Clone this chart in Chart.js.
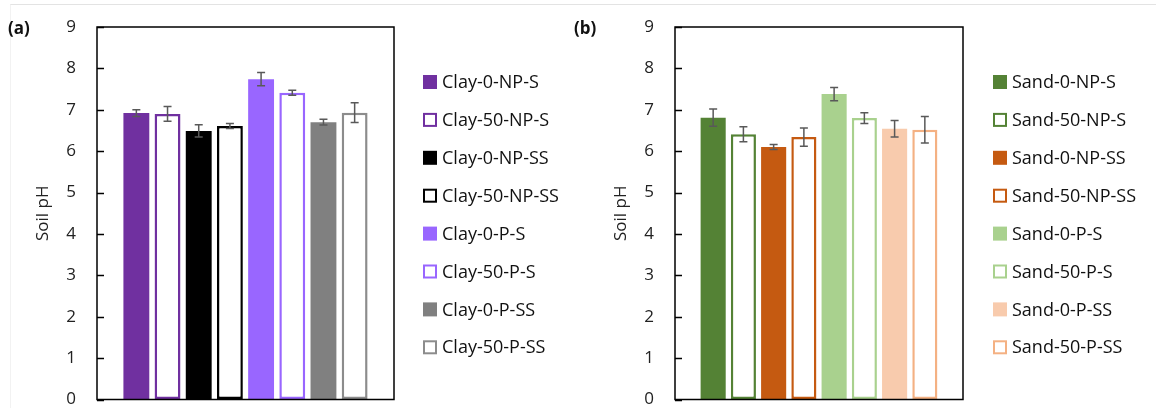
<!DOCTYPE html>
<html>
<head>
<meta charset="utf-8">
<script src="https://cdn.jsdelivr.net/npm/chart.js@4.4.0/dist/chart.umd.min.js"></script>
<style>
  body { margin: 0; background: #fff; width: 1156px; height: 408px; position: relative; overflow: hidden; font-family: "Open Sans", sans-serif; }
  .edge { position: absolute; left: 10px; top: 4px; right: 0; bottom: 0; border-top: 1px solid #e3e3e3; border-left: 1px solid #f2f2f2; }
  .panel { position: absolute; top: 0; width: 578px; height: 408px; }
  .tag { position: absolute; top: 16px; font-weight: bold; font-size: 17px; color: #111; }
</style>
</head>
<body>
<div class="edge"></div>
<div class="panel" style="left:0"><canvas id="clayChart" width="578" height="408"></canvas></div>
<div class="panel" style="left:578px"><canvas id="sandChart" width="578" height="408"></canvas></div>
<div class="tag" style="left:8px">(a)</div>
<div class="tag" style="left:574px">(b)</div>
<script>
// panel (a) - clay
const clayLabels = ["Clay-0-NP-S", "Clay-50-NP-S", "Clay-0-NP-SS", "Clay-50-NP-SS", "Clay-0-P-S", "Clay-50-P-S", "Clay-0-P-SS", "Clay-50-P-SS"];
const clayPH = [6.92, 6.90, 6.49, 6.61, 7.74, 7.41, 6.70, 6.93];
const clayErr = [0.08, 0.18, 0.15, 0.06, 0.16, 0.06, 0.07, 0.24];
const clayColors = ["#7030A0", "#7030A0", "#000000", "#000000", "#9966FF", "#9966FF", "#808080", "#8C8C8C"];

// panel (b) - sand
const sandLabels = ["Sand-0-NP-S", "Sand-50-NP-S", "Sand-0-NP-SS", "Sand-50-NP-SS", "Sand-0-P-S", "Sand-50-P-S", "Sand-0-P-SS", "Sand-50-P-SS"];
const sandPH = [6.81, 6.41, 6.10, 6.34, 7.38, 6.80, 6.54, 6.52];
const sandErr = [0.21, 0.18, 0.06, 0.22, 0.16, 0.13, 0.20, 0.32];
const sandColors = ["#548235", "#548235", "#C55A11", "#C55A11", "#A9D18E", "#A9D18E", "#F8CBAD", "#F4B183"];

const yMin = 0, yMax = 9;

Chart.defaults.font.family = '"Open Sans", sans-serif';
Chart.defaults.color = "#222";

// error bars, drawn from the y scale
const errorBars = {
  id: "errorBars",
  afterDatasetsDraw(chart, args, opts) {
    const { ctx, scales: { y } } = chart;
    ctx.save();
    ctx.strokeStyle = opts.color;
    ctx.lineWidth = opts.width;
    chart.data.datasets.forEach((ds, i) => {
      const bar = chart.getDatasetMeta(i).data[0];
      const hi = y.getPixelForValue(ds.data[0] + ds.err);
      const lo = y.getPixelForValue(ds.data[0] - ds.err);
      ctx.beginPath();
      ctx.moveTo(bar.x, hi); ctx.lineTo(bar.x, lo);
      ctx.moveTo(bar.x - opts.cap, hi); ctx.lineTo(bar.x + opts.cap, hi);
      ctx.moveTo(bar.x - opts.cap, lo); ctx.lineTo(bar.x + opts.cap, lo);
      ctx.stroke();
    });
    ctx.restore();
  }
};

// box round the plot with inward ticks
const plotFrame = {
  id: "plotFrame",
  afterDraw(chart, args, opts) {
    const { ctx, chartArea: a, scales: { y } } = chart;
    ctx.save();
    ctx.strokeStyle = "#000";
    ctx.lineWidth = opts.width;
    ctx.strokeRect(a.left, a.top, a.right - a.left, a.bottom - a.top);
    ctx.beginPath();
    y.ticks.forEach(t => {
      const py = Math.round(y.getPixelForValue(t.value)) + 0.5;
      ctx.moveTo(a.left, py); ctx.lineTo(a.left + opts.tick, py);
    });
    ctx.stroke();
    ctx.restore();
  }
};

// legend column on the right
const sideLegend = {
  id: "sideLegend",
  afterDraw(chart, args, opts) {
    const { ctx } = chart;
    ctx.save();
    ctx.font = opts.size + 'px "Open Sans", sans-serif';
    ctx.textBaseline = "middle";
    chart.data.datasets.forEach((ds, i) => {
      const cy = opts.y + i * opts.step;
      const b = opts.box;
      if (ds.hollow) {
        ctx.fillStyle = "#fff";
        ctx.fillRect(opts.x, cy - b / 2, b, b);
        ctx.strokeStyle = ds.borderColor;
        ctx.lineWidth = 2;
        ctx.strokeRect(opts.x + 1, cy - b / 2 + 1, b - 2, b - 2);
      } else {
        ctx.fillStyle = ds.backgroundColor;
        ctx.fillRect(opts.x, cy - b / 2, b, b);
      }
      ctx.fillStyle = "#111";
      ctx.fillText(ds.label, opts.textX, cy + 1);
    });
    ctx.restore();
  }
};

function makeDatasets(labels, values, errs, colors) {
  return labels.map((lab, i) => {
    const hollow = lab.includes("-50-");
    return {
      label: lab,
      data: [values[i]],
      err: errs[i],
      hollow: hollow,
      backgroundColor: hollow ? "#ffffff" : colors[i],
      borderColor: colors[i],
      borderWidth: hollow ? 2.5 : 0,
      borderSkipped: false,
      categoryPercentage: 0.84,
      barPercentage: 0.83
    };
  });
}

function makeChart(id, labels, values, errs, colors, padRight, legendX) {
  return new Chart(document.getElementById(id), {
    type: "bar",
    data: { labels: [""], datasets: makeDatasets(labels, values, errs, colors) },
    options: {
      responsive: false,
      animation: false,
      devicePixelRatio: 1,
      layout: { padding: { left: 0, top: 27, right: padRight, bottom: 8 } },
      scales: {
        x: { display: false, offset: true },
        y: {
          min: yMin, max: yMax,
          ticks: { stepSize: 1, padding: 0, color: "#222", font: { size: 17, lineHeight: 1 } },
          grid: { display: true, drawOnChartArea: false, drawTicks: true, tickLength: 21, color: "rgba(0,0,0,0)" },
          border: { display: false },
          title: { display: true, text: "Soil pH", color: "#222", font: { size: 17 }, padding: { top: 33, bottom: 0 } },
          afterFit(s) { s.width = 97; }
        }
      },
      plugins: {
        legend: { display: false },
        tooltip: { enabled: false },
        errorBars: { color: "#595959", width: 1.5, cap: 4 },
        plotFrame: { width: 1.5, tick: 7 },
        sideLegend: { x: legendX, textX: legendX + 19, y: 82, step: 37.9, box: 14, size: 18 }
      }
    },
    plugins: [errorBars, plotFrame, sideLegend]
  });
}

makeChart("clayChart", clayLabels, clayPH, clayErr, clayColors, 578 - 394, 423);
makeChart("sandChart", sandLabels, sandPH, sandErr, sandColors, 578 - 385, 415);
</script>
</body>
</html>
